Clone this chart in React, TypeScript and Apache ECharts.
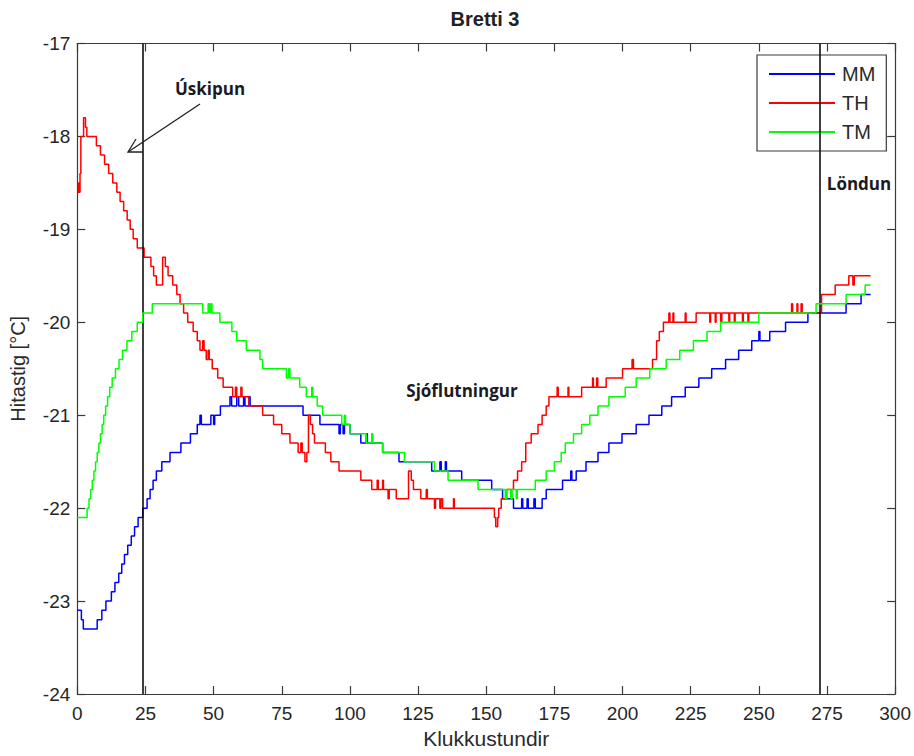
import React, { useEffect, useRef } from "react";
import * as echarts from "echarts";

const chartTitle = "Bretti 3";
const xName = "Klukkustundir";
const yName = "Hitastig [°C]";
const seriesNames = ["MM", "TH", "TM"];
const seriesColors = ["#0000ff", "#ff0000", "#00ff00"];
const markerHours = [24, 272.5];

const mmData: [number, number][] = [
  [0, -23.1], [1.5, -23.2], [2.2, -23.3], [7.3, -23.2], [9, -23.1], [10.5, -23.0], [12.5, -22.9],
  [13.8, -22.8], [15.2, -22.7], [16.3, -22.6], [17.3, -22.5], [18.5, -22.4], [19.8, -22.3],
  [21, -22.2], [22.3, -22.1], [24, -22.0], [25.6, -21.9], [26.7, -21.8], [27.8, -21.7], [29, -21.6],
  [31, -21.5], [34, -21.4], [38, -21.3], [41.5, -21.2], [44, -21.1], [45, -21.0], [45.5, -21.1],
  [49, -21.0], [50, -21.1], [50.4, -21.0], [52.5, -20.9], [56, -20.8], [56.6, -20.9], [58.5, -20.8],
  [59.2, -20.9], [61, -20.8], [61.5, -20.9], [63, -20.8], [63.4, -20.9], [82.8, -21.0], [89, -21.1],
  [96, -21.2], [96.5, -21.1], [97.5, -21.2], [98, -21.1], [100, -21.2], [104, -21.3], [106, -21.2],
  [106.4, -21.3], [112, -21.4], [118, -21.5], [130, -21.6], [133, -21.5], [133.5, -21.6], [135, -21.5],
  [135.4, -21.6], [141, -21.7], [152, -21.8], [156, -21.9], [160, -22.0], [163, -21.9], [163.4, -22.0],
  [165, -21.9], [165.4, -22.0], [167.5, -21.9], [168, -22.0], [170.5, -21.9], [172, -21.8], [178, -21.7],
  [181, -21.6], [181.4, -21.7], [183, -21.6], [186.6, -21.5], [191, -21.4], [195, -21.3], [199.8, -21.2],
  [205, -21.1], [209.7, -21.0], [214.4, -20.9], [218, -20.8], [223, -20.7], [228, -20.6], [232.7, -20.5],
  [237.8, -20.4], [242.6, -20.3], [247.4, -20.2], [250, -20.1], [250.4, -20.2], [254, -20.1],
  [259.8, -20.0], [268, -19.9], [282, -19.8], [287.5, -19.7], [291, -19.7],
];

const thData: [number, number][] = [
  [0, -18.6], [0.4, -18.5], [0.7, -18.6], [1, -18.4], [1.3, -18.0], [2.3, -17.8], [3, -17.9],
  [3.5, -18.0], [7, -18.1], [8.5, -18.2], [10, -18.3], [11.5, -18.4], [13, -18.5], [14.5, -18.6],
  [15.7, -18.7], [17, -18.8], [18.3, -18.9], [19.4, -19.0], [20.5, -19.1], [22, -19.2], [24.5, -19.3],
  [27, -19.4], [28, -19.5], [29, -19.6], [31.3, -19.3], [32.3, -19.4], [33.3, -19.5], [35, -19.6],
  [36.5, -19.7], [37.7, -19.8], [39, -19.9], [40.5, -20.0], [42.5, -20.1], [44, -20.2], [45, -20.3],
  [46, -20.2], [46.5, -20.3], [47.3, -20.4], [48, -20.3], [48.4, -20.4], [49.5, -20.5], [51.5, -20.6],
  [53.5, -20.7], [57, -20.8], [58, -20.7], [58.5, -20.8], [60, -20.7], [60.4, -20.8], [63, -20.9],
  [68, -21.0], [72, -21.1], [75, -21.2], [78, -21.3], [81, -21.4], [82, -21.3], [82.5, -21.4],
  [83.5, -21.5], [84.2, -21.4], [84.8, -21.0], [85.5, -21.1], [86.3, -21.2], [87, -21.3], [91, -21.4],
  [93, -21.5], [96, -21.6], [104, -21.7], [108, -21.8], [110, -21.7], [110.4, -21.8], [112, -21.7],
  [112.3, -21.8], [114, -21.9], [114.4, -21.8], [117, -21.9], [121.5, -21.6], [122.5, -21.7],
  [123.3, -21.8], [126, -21.9], [128, -21.8], [128.4, -21.9], [131, -22.0], [131.4, -21.9], [133, -22.0],
  [133.4, -21.9], [134, -22.0], [138, -21.9], [138.3, -22.0], [153, -22.1], [153.5, -22.2],
  [154.2, -22.1], [154.6, -22.0], [155.5, -21.9], [157.5, -21.8], [160, -21.7], [161.5, -21.6],
  [163, -21.5], [164.5, -21.3], [166.5, -21.2], [169, -21.1], [170.5, -21.0], [172, -20.9], [173, -20.8],
  [176, -20.7], [176.4, -20.8], [180, -20.7], [180.3, -20.8], [185, -20.7], [189, -20.6], [189.3, -20.7],
  [190.5, -20.6], [190.9, -20.7], [194, -20.6], [200, -20.5], [203.5, -20.4], [204, -20.5], [211, -20.4],
  [212.5, -20.2], [213.5, -20.1], [215, -20.0], [217, -19.9], [217.4, -20.0], [218.5, -19.9],
  [218.8, -20.0], [223, -19.9], [223.3, -20.0], [227, -19.9], [232, -20.0], [232.3, -19.9], [234, -20.0],
  [234.3, -19.9], [236, -20.0], [236.4, -19.9], [239, -20.0], [239.3, -19.9], [241, -20.0], [241.3, -19.9],
  [244, -20.0], [244.3, -19.9], [246, -20.0], [246.3, -19.9], [262, -19.8], [262.4, -19.9], [264, -19.8],
  [264.3, -19.9], [265.5, -19.8], [265.9, -19.9], [273, -19.7], [278, -19.6], [283, -19.5], [284.5, -19.6],
  [285, -19.5], [291, -19.5],
];

const tmData: [number, number][] = [
  [0, -22.1], [3.6, -22.0], [4.3, -21.9], [4.9, -21.8], [5.5, -21.7], [6.1, -21.6], [6.7, -21.5],
  [7.3, -21.4], [7.9, -21.3], [8.5, -21.2], [9.1, -21.1], [9.7, -21.0], [10.4, -20.9], [11.1, -20.8],
  [11.9, -20.7], [12.8, -20.6], [14, -20.5], [15.3, -20.4], [16.6, -20.3], [18.2, -20.2], [20, -20.1],
  [22, -20.0], [24, -19.9], [27.5, -19.8], [46, -19.9], [48, -19.8], [48.5, -19.9], [49, -19.8],
  [49.4, -19.9], [52.3, -20.0], [56.7, -20.1], [58.5, -20.2], [62, -20.3], [67, -20.4], [68, -20.5],
  [76.7, -20.6], [77.5, -20.5], [78, -20.6], [81.6, -20.7], [84, -20.8], [86, -20.7], [86.4, -20.8],
  [88, -20.9], [90, -21.0], [97, -21.1], [98, -21.0], [98.4, -21.1], [100, -21.2], [106, -21.3],
  [108, -21.2], [108.4, -21.3], [112, -21.4], [120, -21.5], [131, -21.6], [136, -21.7], [147, -21.8],
  [157, -21.9], [157.5, -21.8], [159, -21.9], [159.5, -21.8], [161, -21.9], [161.4, -21.8], [168, -21.7],
  [172, -21.6], [175, -21.5], [177.5, -21.4], [179, -21.3], [182, -21.2], [185, -21.1], [188, -21.0],
  [191, -20.9], [195, -20.8], [201, -20.7], [205, -20.6], [210, -20.5], [216, -20.4], [221, -20.3],
  [226, -20.2], [231, -20.1], [236, -20.0], [250, -19.9], [271, -19.8], [282, -19.7], [289, -19.6],
  [291, -19.6],
];

const annotations = [
  { text: "Úskipun", x: 210, y: 88 },
  { text: "Sjóflutningur", x: 462, y: 390 },
  { text: "Löndun", x: 859, y: 183 },
];

export default function App() {
  const ref = useRef<HTMLDivElement>(null);

  useEffect(() => {
    if (!ref.current) return;
    const chart = echarts.init(ref.current, null, { renderer: "svg" });
    const font = "'Liberation Sans', Arial, sans-serif";
    const axisColor = "#3a3a3a";
    const labelColor = "#262626";

    const baseX = {
      type: "value" as const,
      min: 0,
      max: 300,
      interval: 25,
      splitLine: { show: false },
      axisLine: { show: true, onZero: false, lineStyle: { color: axisColor, width: 1.2 } },
      axisTick: { show: true, inside: true, length: 8, lineStyle: { color: axisColor, width: 1.2 } },
    };
    const baseY = {
      type: "value" as const,
      min: -24,
      max: -17,
      interval: 1,
      splitLine: { show: false },
      axisLine: { show: true, onZero: false, lineStyle: { color: axisColor, width: 1.2 } },
      axisTick: { show: true, inside: true, length: 8, lineStyle: { color: axisColor, width: 1.2 } },
    };

    const datasets = [mmData, thData, tmData];

    chart.setOption({
      animation: false,
      backgroundColor: "#ffffff",
      grid: { left: 77.3, right: 18.3, top: 43.5, bottom: 62, containLabel: false },
      xAxis: [
        {
          ...baseX,
          position: "bottom",
          name: xName,
          nameLocation: "middle",
          nameGap: 34,
          nameTextStyle: { fontFamily: font, fontSize: 21, color: "#2a2a2a" },
          axisLabel: { fontFamily: font, fontSize: 19, color: labelColor, margin: 10 },
        },
        { ...baseX, position: "top", axisLabel: { show: false } },
      ],
      yAxis: [
        {
          ...baseY,
          position: "left",
          name: yName,
          nameLocation: "middle",
          nameGap: 49,
          nameTextStyle: { fontFamily: font, fontSize: 20, color: "#2a2a2a" },
          axisLabel: { fontFamily: font, fontSize: 19, color: labelColor, margin: 7 },
        },
        { ...baseY, position: "right", axisLabel: { show: false } },
      ],
      legend: {
        orient: "vertical",
        left: 757,
        top: 55,
        padding: [9, 11, 9, 12],
        itemGap: 9,
        itemWidth: 66,
        itemHeight: 2,
        icon: "rect",
        borderColor: "#3a3a3a",
        borderWidth: 1.2,
        backgroundColor: "#ffffff",
        textStyle: { fontFamily: font, fontSize: 20, color: "#2a2a2a", lineHeight: 20, padding: [0, 0, 0, 2] },
        data: seriesNames,
      },
      series: seriesNames.map((name, i) => ({
        name,
        type: "line",
        step: "end",
        data: datasets[i],
        symbol: "none",
        showSymbol: false,
        color: seriesColors[i],
        lineStyle: { color: seriesColors[i], width: 1.5 },
        z: 3 + i,
        markLine:
          i === 0
            ? {
                silent: true,
                symbol: "none",
                label: { show: false },
                lineStyle: { color: "#000000", width: 1.5, type: "solid" },
                data: markerHours.map((h) => ({ xAxis: h })),
              }
            : undefined,
      })),
      graphic: [
        {
          type: "text",
          x: 485,
          y: 19,
          style: {
            text: chartTitle,
            fontFamily: font,
            fontSize: 20,
            fontWeight: "bold",
            fill: "#222222",
            textAlign: "center",
            textVerticalAlign: "middle",
          },
        },
        ...annotations.map((a) => ({
          type: "text",
          x: a.x,
          y: a.y,
          z: 10,
          style: {
            text: a.text,
            fontFamily: "'Open Sans', 'Noto Sans', sans-serif",
            fontSize: 17,
            fontWeight: "bold",
            fill: "#1a1a22",
            textAlign: "center",
            textVerticalAlign: "middle",
          },
        })),
        {
          type: "line",
          z: 10,
          shape: { x1: 200, y1: 104, x2: 128, y2: 152 },
          style: { stroke: "#222222", lineWidth: 1.3 },
        },
        {
          type: "polyline",
          z: 10,
          shape: { points: [[136, 139], [128, 152], [143, 152]] },
          style: { stroke: "#222222", lineWidth: 1.3, fill: null },
        },
      ],
    });

    return () => chart.dispose();
  }, []);

  return (
    <div
      ref={ref}
      style={{ position: "absolute", left: 0, top: 0, width: 914, height: 756 }}
    />
  );
}
